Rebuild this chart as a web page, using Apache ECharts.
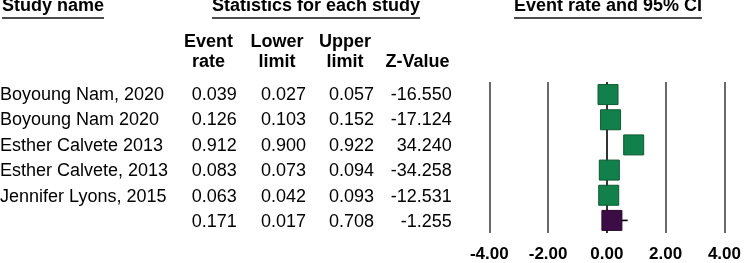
<!DOCTYPE html>
<html>
<head>
<meta charset="utf-8">
<title>Forest plot</title>
</head>
<body style="margin:0">
<div id="main" style="width:744px;height:263px;"></div>
<script src="https://cdn.jsdelivr.net/npm/echarts@6/dist/echarts.min.js"></script>
<script>
// table + plot data
var studies = ['Boyoung Nam, 2020', 'Boyoung Nam 2020', 'Esther Calvete 2013', 'Esther Calvete, 2013', 'Jennifer Lyons, 2015', ''];
var eventRate = [0.039, 0.126, 0.912, 0.083, 0.063, 0.171];
var lowerLimit = [0.027, 0.103, 0.900, 0.073, 0.042, 0.017];
var upperLimit = [0.057, 0.152, 0.922, 0.094, 0.093, 0.708];
var zValue = [-16.550, -17.124, 34.240, -34.258, -12.531, -1.255];
var xTicks = [-4, -2, 0, 2, 4];

var FONT = '"Liberation Sans", Arial, sans-serif';
var rows = studies.map(function (s, i) { return i; });

function fmt3(v) { return v.toFixed(3); }

// text column in the table grid, drawn through its axes
function textColumn(colX, texts, align) {
    return {
        type: 'custom',
        xAxisIndex: 0,
        yAxisIndex: 0,
        silent: true,
        data: texts.map(function (t, i) { return [colX, i]; }),
        renderItem: function (params, api) {
            var p = api.coord([api.value(0), api.value(1)]);
            return {
                type: 'text',
                x: p[0],
                y: p[1],
                style: {
                    text: texts[params.dataIndex],
                    font: '18px ' + FONT,
                    fill: '#000',
                    align: align, textAlign: align,
                    verticalAlign: 'middle', textVerticalAlign: 'middle'
                }
            };
        }
    };
}

// header texts + underlines
var measureCtx = document.createElement('canvas').getContext('2d');
function textWidth(t, font) { measureCtx.font = font; return measureCtx.measureText(t).width; }

var headFont = 'bold 18px ' + FONT;
var graphics = [];
function header(t, x, align) {
    var w = textWidth(t, headFont);
    var x0 = align === 'left' ? x : x - w / 2;
    graphics.push({ type: 'text', x: x, y: 6.5, silent: true,
        style: { text: t, font: headFont, fill: '#000', align: align, textAlign: align,
            verticalAlign: 'middle', textVerticalAlign: 'middle' } });
    graphics.push({ type: 'line', silent: true,
        shape: { x1: x0, y1: 18, x2: x0 + w, y2: 18 },
        style: { stroke: '#111', lineWidth: 1.6 } });
}
header('Study name', 2, 'left');
header('Statistics for each study', 316, 'center');
header('Event rate and 95% CI', 608, 'center');

function subHeader(t, x, y) {
    graphics.push({ type: 'text', x: x, y: y, silent: true,
        style: { text: t, font: headFont, fill: '#000', lineHeight: 20,
            align: 'center', textAlign: 'center', verticalAlign: 'middle', textVerticalAlign: 'middle' } });
}
subHeader('Event\nrate', 208.5, 52);
subHeader('Lower\nlimit', 277, 52);
subHeader('Upper\nlimit', 345, 52);
subHeader('Z-Value', 417.5, 62);

var myChart = echarts.init(document.getElementById('main'));

var option = {
    animation: false,
    backgroundColor: '#fff',
    graphic: graphics,
    grid: [
        { left: 0, right: 0, top: 82, height: 153 },
        { left: 489.3, right: 18, top: 82, height: 153 }
    ],
    xAxis: [
        { gridIndex: 0, type: 'value', min: 0, max: 744, show: false },
        {
            gridIndex: 1, type: 'value', min: xTicks[0], max: xTicks[xTicks.length - 1], interval: 2,
            axisLine: { show: false },
            axisTick: { show: false },
            axisLabel: {
                margin: 13,
                color: '#000',
                fontFamily: FONT,
                fontWeight: 'bold',
                fontSize: 17,
                formatter: function (v) { return v.toFixed(2); }
            },
            splitLine: {
                show: true,
                lineStyle: { color: ['#444', '#444', '#000', '#444', '#444'], width: 1.6 }
            }
        }
    ],
    yAxis: [
        { gridIndex: 0, type: 'category', data: rows, inverse: true, show: false },
        { gridIndex: 1, type: 'category', data: rows, inverse: true, show: false }
    ],
    series: [
        textColumn(0, studies, 'left'),
        textColumn(236.7, eventRate.map(fmt3), 'right'),
        textColumn(306, lowerLimit.map(fmt3), 'right'),
        textColumn(374, upperLimit.map(fmt3), 'right'),
        textColumn(451.7, zValue.map(fmt3), 'right'),
        {
            type: 'custom',
            xAxisIndex: 1,
            yAxisIndex: 1,
            silent: true,
            data: eventRate.map(function (v, i) { return [v, lowerLimit[i], upperLimit[i], i]; }),
            renderItem: function (params, api) {
                var row = api.value(3);
                var p = api.coord([api.value(0), row]);
                var lo = api.coord([api.value(1), row]);
                var hi = api.coord([api.value(2), row]);
                var summary = studies[params.dataIndex] === '';
                var s = 20;
                return {
                    type: 'group',
                    children: [
                        { type: 'line', shape: { x1: lo[0], y1: lo[1], x2: hi[0], y2: hi[1] },
                          style: { stroke: '#000', lineWidth: 1.6 } },
                        { type: 'rect', shape: { x: p[0] - s / 2, y: p[1] - s / 2, width: s, height: s },
                          style: { fill: summary ? '#3c0c45' : '#12804a',
                                   stroke: summary ? '#2a0630' : '#0c5a33', lineWidth: 1 } }
                    ]
                };
            }
        }
    ]
};

myChart.setOption(option);
</script>
</body>
</html>
